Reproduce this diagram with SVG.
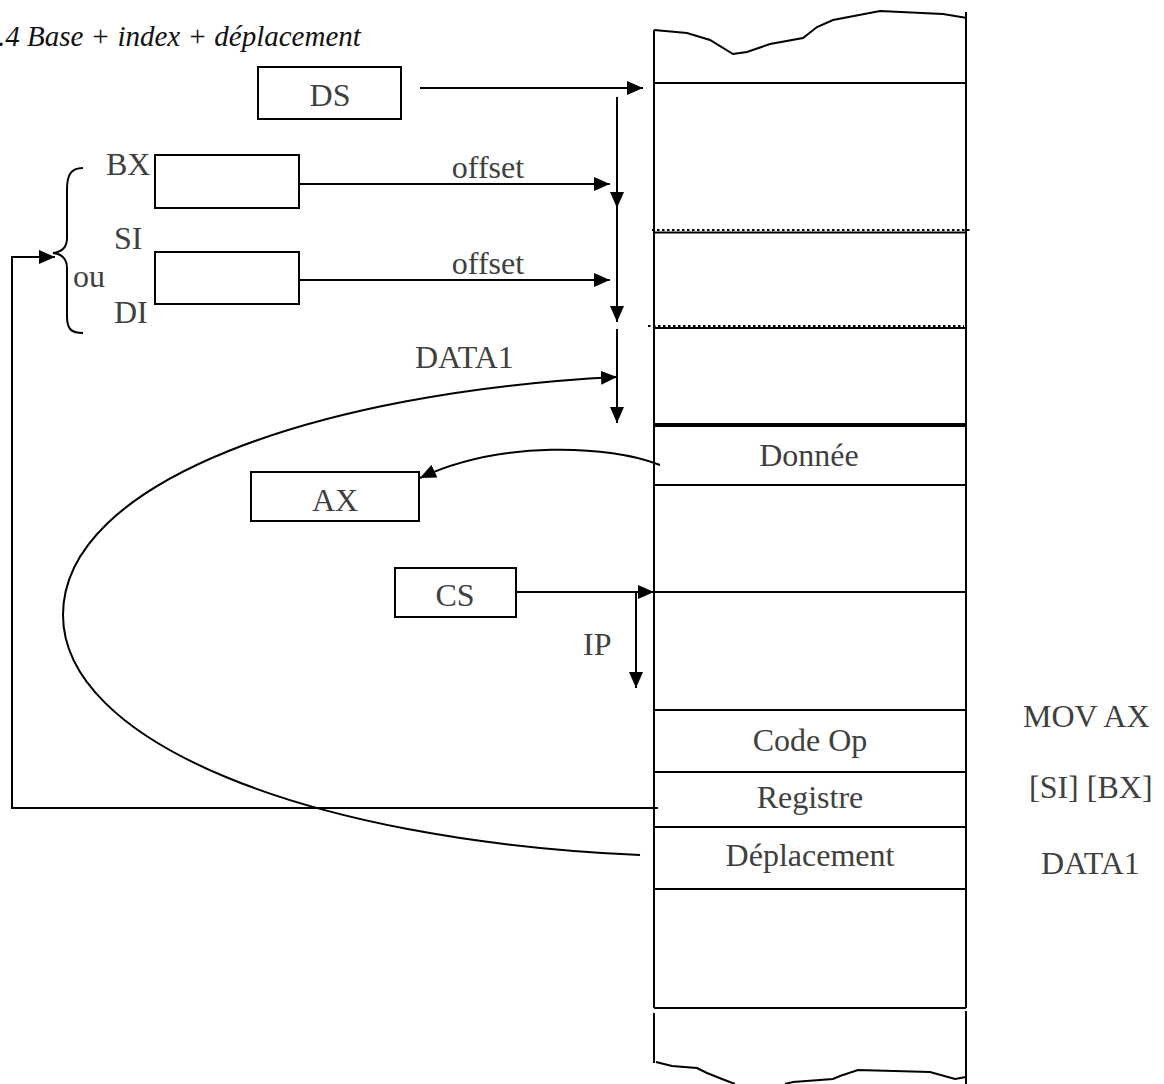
<svg xmlns="http://www.w3.org/2000/svg" width="1164" height="1084" viewBox="0 0 1164 1084">
<style>
.ln{fill:none;stroke:#000;stroke-width:2}
.box{fill:#fff;stroke:#000;stroke-width:2}
.dot{fill:none;stroke:#000;stroke-width:2;stroke-dasharray:2.5 2.5}
.t{font-family:"Liberation Serif","Times New Roman",serif;font-size:32px;fill:#404040}
.c{text-anchor:middle}
.title{font-family:"Liberation Serif","Times New Roman",serif;font-size:29px;font-style:italic;fill:#111}
</style>
<defs>
<marker id="ah" viewBox="0 0 16 14" refX="16" refY="7" markerWidth="16" markerHeight="14" markerUnits="userSpaceOnUse" orient="auto">
<path d="M0,0 L16,7 L0,14 z" fill="#000"/>
</marker>
</defs>
<rect width="1164" height="1084" fill="#fff"/>
<text class="title" x="-2" y="46">.4 Base + index + déplacement</text>

<g id="memory">
<path class="ln" d="M654,30 L687,33 L710,40 L733,54 L747,52 L770,44 L803,38 L817,27 L833,20 L880,11 L943,14 L967,18"/>
<line class="ln" x1="654" y1="30" x2="654" y2="1008"/>
<line class="ln" x1="966" y1="12" x2="966" y2="1008"/>
<line class="ln" x1="654" y1="83" x2="966" y2="83"/>
<line class="dot" x1="652" y1="230" x2="970" y2="230"/>
<line class="ln" x1="654" y1="232.5" x2="966" y2="232.5"/>
<line class="dot" x1="648" y1="326" x2="964" y2="326"/>
<line class="ln" x1="654" y1="328" x2="966" y2="328"/>
<line class="ln" x1="654" y1="424" x2="966" y2="424"/>
<line class="ln" x1="654" y1="592" x2="966" y2="592"/>
<line class="ln" x1="654" y1="710" x2="966" y2="710"/>
<line class="ln" x1="654" y1="772" x2="966" y2="772"/>
<line class="ln" x1="654" y1="827" x2="966" y2="827"/>
<line class="ln" x1="654" y1="889" x2="966" y2="889"/>
<line class="ln" x1="654" y1="1008" x2="966" y2="1008"/>
<line class="ln" x1="654" y1="1013" x2="654" y2="1063"/>
<line class="ln" x1="966" y1="1011" x2="966" y2="1084"/>
<path class="ln" d="M656,1062 L672,1066 L697,1068 L707,1073 L722,1079 L735,1084"/>
<path class="ln" d="M785,1084 L793,1082 L833,1079 L840,1076 L858,1070 L930,1072 L955,1079 L966,1077"/>
<text class="t c" x="810" y="751">Code Op</text>
<text class="t c" x="810" y="808">Registre</text>
<text class="t c" x="810" y="866">Déplacement</text>
</g>

<g id="donnee">
<rect class="box" x="654" y="426" width="312" height="59"/>
<text class="t c" x="809" y="466">Donnée</text>
</g>

<g id="ds">
<rect class="box" x="258" y="67" width="143" height="52"/>
<text class="t c" x="330" y="106">DS</text>
</g>

<g id="bx">
<rect class="box" x="155" y="155" width="144" height="53"/>
<text class="t" x="106" y="175">BX</text>
</g>

<g id="sidi">
<rect class="box" x="155" y="252" width="144" height="52"/>
<text class="t" x="114" y="249">SI</text>
<text class="t" x="73" y="287">ou</text>
<text class="t" x="114" y="323">DI</text>
<path class="ln" d="M83,168 C70,168 67,176 67,190 L67,238 C67,248 62,252 53,253 C62,254 67,258 67,268 L67,316 C67,328 70,333 83,333"/>
</g>

<g id="ax">
<rect class="box" x="251" y="472" width="168" height="49"/>
<text class="t c" x="335" y="511">AX</text>
</g>

<g id="cs">
<rect class="box" x="395" y="568" width="121" height="49"/>
<text class="t c" x="455" y="606">CS</text>
</g>

<g id="labels">
<text class="t c" x="488" y="178">offset</text>
<text class="t c" x="488" y="274">offset</text>
<text class="t" x="415" y="368">DATA1</text>
<text class="t" x="583" y="655">IP</text>
<text class="t" x="1023" y="727">MOV AX</text>
<text class="t" x="1029" y="798">[SI] [BX]</text>
<text class="t" x="1041" y="874">DATA1</text>
</g>

<g id="connectors">
<line class="ln" x1="420" y1="88" x2="643" y2="88" marker-end="url(#ah)"/>
<line class="ln" x1="617" y1="97" x2="617" y2="208" marker-end="url(#ah)"/>
<line class="ln" x1="617" y1="208" x2="617" y2="322" marker-end="url(#ah)"/>
<line class="ln" x1="617" y1="329" x2="617" y2="423" marker-end="url(#ah)"/>
<line class="ln" x1="299" y1="184" x2="610" y2="184" marker-end="url(#ah)"/>
<line class="ln" x1="299" y1="280" x2="610" y2="280" marker-end="url(#ah)"/>
<path class="ln" d="M660,465 C610,445 500,440 420,478" marker-end="url(#ah)"/>
<line class="ln" x1="516" y1="592" x2="654" y2="592" marker-end="url(#ah)"/>
<line class="ln" x1="636" y1="592" x2="636" y2="688" marker-end="url(#ah)"/>
<polyline class="ln" points="658,808 12,808 12,257 55,257" marker-end="url(#ah)"/>
<path class="ln" d="M640,855 C300,840 63,740 63,615 C63,480 320,392 617,377" marker-end="url(#ah)"/>
</g>
</svg>
